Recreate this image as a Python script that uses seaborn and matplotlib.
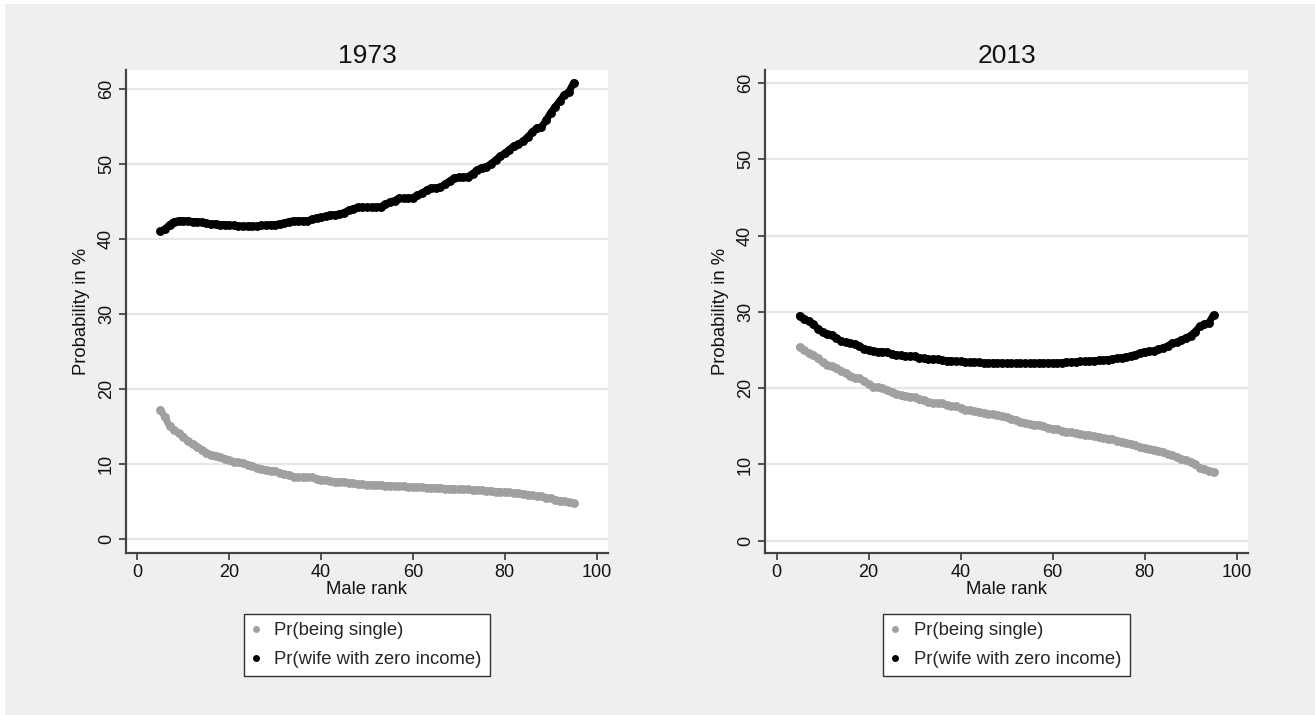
import numpy as np
import pandas as pd
import matplotlib
matplotlib.use("Agg")
import matplotlib.pyplot as plt
import seaborn as sns
from matplotlib.patches import Rectangle
from matplotlib.lines import Line2D

# ---------------- data ----------------
rank = list(range(5, 96))

single_1973 = [17.2, 16.2, 15.0, 14.5, 14.1, 13.6, 13.0, 12.6, 12.3, 11.9,
               11.5, 11.2, 11.1, 10.9, 10.7, 10.5, 10.3, 10.2, 10.1, 9.9,
               9.7, 9.5, 9.3, 9.2, 9.1, 9.0, 8.8, 8.6, 8.5, 8.3,
               8.2, 8.2, 8.2, 8.2, 8.0, 7.9, 7.8, 7.7, 7.6, 7.6,
               7.6, 7.5, 7.4, 7.3, 7.3, 7.2, 7.2, 7.2, 7.2, 7.1,
               7.1, 7.0, 7.0, 7.0, 6.9, 6.9, 6.9, 6.9, 6.8, 6.8,
               6.8, 6.8, 6.7, 6.7, 6.6, 6.6, 6.6, 6.6, 6.5, 6.5,
               6.5, 6.4, 6.4, 6.3, 6.3, 6.2, 6.2, 6.1, 6.1, 6.0,
               5.9, 5.8, 5.7, 5.7, 5.5, 5.4, 5.2, 5.1, 5.0, 4.9,
               4.8]

zero_1973 = [41.0, 41.3, 41.9, 42.3, 42.4, 42.4, 42.4, 42.3, 42.3, 42.2,
             42.1, 42.0, 42.0, 41.9, 41.9, 41.8, 41.8, 41.7, 41.7, 41.7,
             41.7, 41.7, 41.8, 41.8, 41.9, 41.9, 42.0, 42.1, 42.3, 42.4,
             42.4, 42.4, 42.4, 42.6, 42.8, 42.9, 43.0, 43.2, 43.2, 43.3,
             43.5, 43.8, 44.0, 44.2, 44.2, 44.2, 44.2, 44.2, 44.3, 44.6,
             44.9, 45.1, 45.4, 45.4, 45.4, 45.5, 45.8, 46.1, 46.5, 46.8,
             46.8, 46.9, 47.3, 47.7, 48.1, 48.2, 48.2, 48.3, 48.7, 49.2,
             49.5, 49.6, 50.0, 50.5, 51.0, 51.4, 51.9, 52.4, 52.6, 53.0,
             53.6, 54.2, 54.8, 54.9, 55.8, 56.8, 57.6, 58.4, 59.2, 59.6,
             60.8]

single_2013 = [25.4, 25.0, 24.6, 24.3, 23.9, 23.4, 23.0, 22.9, 22.7, 22.3,
               22.0, 21.6, 21.4, 21.3, 20.9, 20.5, 20.2, 20.1, 20.0, 19.8,
               19.5, 19.3, 19.1, 19.0, 18.9, 18.8, 18.6, 18.4, 18.2, 18.1,
               18.0, 18.0, 17.8, 17.7, 17.6, 17.4, 17.2, 17.1, 17.0, 16.9,
               16.7, 16.6, 16.6, 16.5, 16.3, 16.2, 16.0, 15.8, 15.6, 15.5,
               15.3, 15.2, 15.2, 15.0, 14.8, 14.7, 14.6, 14.4, 14.3, 14.2,
               14.1, 14.0, 13.9, 13.8, 13.7, 13.6, 13.5, 13.4, 13.3, 13.1,
               13.0, 12.8, 12.7, 12.5, 12.3, 12.1, 12.0, 11.9, 11.8, 11.6,
               11.4, 11.2, 11.0, 10.7, 10.6, 10.3, 10.0, 9.6, 9.4, 9.2,
               9.0]

zero_2013 = [29.5, 29.1, 28.8, 28.4, 27.8, 27.3, 27.1, 27.0, 26.6, 26.2,
             26.0, 25.9, 25.8, 25.5, 25.2, 25.0, 24.9, 24.8, 24.8, 24.7,
             24.5, 24.4, 24.3, 24.2, 24.2, 24.2, 24.0, 23.9, 23.8, 23.8,
             23.8, 23.7, 23.6, 23.6, 23.5, 23.5, 23.4, 23.4, 23.4, 23.4,
             23.3, 23.3, 23.3, 23.3, 23.3, 23.25, 23.25, 23.25, 23.25, 23.25,
             23.25, 23.25, 23.3, 23.3, 23.3, 23.3, 23.3, 23.35, 23.4, 23.4,
             23.45, 23.5, 23.5, 23.55, 23.6, 23.65, 23.7, 23.75, 23.8, 23.9,
             24.0, 24.1, 24.25, 24.4, 24.6, 24.8, 24.85, 24.9, 25.1, 25.3,
             25.5, 25.9, 26.0, 26.3, 26.6, 26.9, 27.4, 28.1, 28.4, 28.6,
             29.6]

panel_titles = ["1973", "2013"]
series_labels = ["Pr(being single)", "Pr(wife with zero income)"]
x_ticks = [0, 20, 40, 60, 80, 100]
y_ticks = [0, 10, 20, 30, 40, 50, 60]

# ---------------- style ----------------
sns.set_theme(style="white")
plt.rcParams["font.family"] = ["Liberation Sans", "DejaVu Sans"]

BG = "#efefef"
GRID = "#e6e6e6"
AXC = "#444444"
TXT = "#111111"
COLORS = {series_labels[0]: "#a0a0a0", series_labels[1]: "#000000"}

fig = plt.figure(figsize=(13.15, 7.15), dpi=100, facecolor="white")
fig.patches.append(Rectangle((5 / 1315, 0), 1 - 5 / 1315, 1 - 4 / 715,
                             transform=fig.transFigure, facecolor=BG,
                             edgecolor="none", zorder=-10))

W, H = 1315, 715
axes_px = [(126, 70, 482, 483), (765, 70, 483, 483)]
ylims = [(-1.9, 62.5), (-1.6, 61.7)]

frames = []
for yr, s, z in [("1973", single_1973, zero_1973), ("2013", single_2013, zero_2013)]:
    frames.append(pd.DataFrame({"rank": rank, "value": s, "series": series_labels[0], "year": yr}))
    frames.append(pd.DataFrame({"rank": rank, "value": z, "series": series_labels[1], "year": yr}))
df = pd.concat(frames, ignore_index=True)

for i, yr in enumerate(panel_titles):
    l, t, w, h = axes_px[i]
    ax = fig.add_axes([l / W, 1 - (t + h) / H, w / W, h / H])
    ax.set_facecolor("white")
    sub = df[df["year"] == yr]
    # thick connected markers, resembling dense Stata scatter
    sns.lineplot(data=sub, x="rank", y="value", hue="series",
                 hue_order=series_labels, palette=COLORS, linewidth=5.0,
                 marker="o", markersize=6.4, markeredgewidth=0,
                 legend=False, ax=ax, zorder=3, solid_capstyle="round")
    ax.set_xlim(-2.5, 102.5)
    ax.set_ylim(*ylims[i])
    ax.set_xticks(x_ticks)
    ax.set_yticks(y_ticks)
    ax.yaxis.grid(True, color=GRID, linewidth=1.6, zorder=0)
    ax.xaxis.grid(False)
    for side in ["top", "right"]:
        ax.spines[side].set_visible(False)
    for side in ["left", "bottom"]:
        ax.spines[side].set_color(AXC)
        ax.spines[side].set_linewidth(1.6)
    ax.tick_params(axis="both", which="major", direction="out", length=5,
                   width=1.3, color=AXC, labelsize=13, labelcolor=TXT,
                   left=True, bottom=True, pad=3)
    for lab in ax.get_yticklabels():
        lab.set_rotation(90)
        lab.set_va("center")
    ax.set_xlabel("Male rank", fontsize=13.3, color=TXT, labelpad=0)
    ax.set_ylabel("Probability in %", fontsize=13.3, color=TXT, labelpad=6)
    ax.set_title(yr, fontsize=19, color=TXT, pad=5)

    handles = [Line2D([], [], linestyle="none", marker="o", markersize=5,
                      markeredgewidth=0, color=COLORS[lbl]) for lbl in series_labels]
    leg = ax.legend(handles, series_labels, loc="upper center",
                    bbox_to_anchor=(0.5, -0.126), frameon=True, fancybox=False,
                    fontsize=13.3, handlelength=0.4,
                    handletextpad=0.8, labelspacing=0.65, borderpad=0.45,
                    borderaxespad=0)
    fr = leg.get_frame()
    fr.set_edgecolor("#333333")
    fr.set_linewidth(1.0)
    fr.set_facecolor("white")
    fr.set_alpha(1)

fig.savefig("out.png", dpi=100, facecolor=fig.get_facecolor())
